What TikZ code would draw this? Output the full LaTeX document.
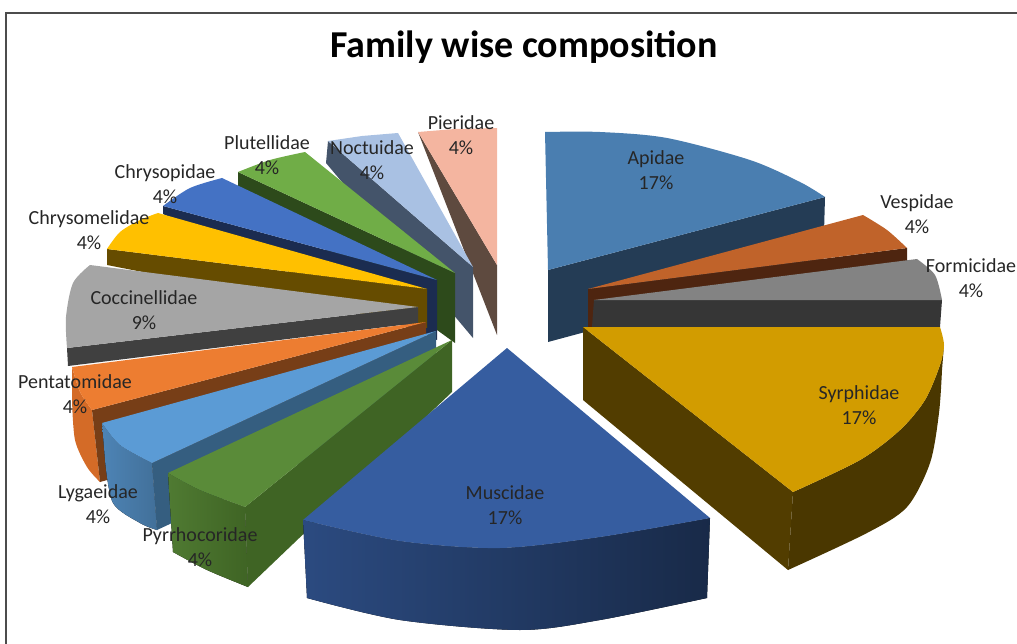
\documentclass[tikz,border=0pt]{standalone}
\usepackage{fontspec}
\setmainfont{Carlito}

\definecolor{apiTop}{HTML}{4A7EB0}
\definecolor{apiSide}{HTML}{243C55}
\definecolor{vesTop}{HTML}{C0632A}
\definecolor{vesSide}{HTML}{4E2510}
\definecolor{forTop}{HTML}{838383}
\definecolor{forSide}{HTML}{363636}
\definecolor{syrTop}{HTML}{D29C00}
\definecolor{syrSide}{HTML}{523D00}
\definecolor{musTop}{HTML}{365DA0}
\definecolor{pyrTop}{HTML}{5A8B39}
\definecolor{pyrSide}{HTML}{3F6424}
\definecolor{lygTop}{HTML}{5B9BD5}
\definecolor{lygSide}{HTML}{355E80}
\definecolor{penTop}{HTML}{ED7D31}
\definecolor{penSide}{HTML}{773E17}
\definecolor{penRim}{HTML}{D46B27}
\definecolor{cocTop}{HTML}{A5A5A5}
\definecolor{cocSide}{HTML}{404040}
\definecolor{chmTop}{HTML}{FFC000}
\definecolor{chmSide}{HTML}{664C00}
\definecolor{chpTop}{HTML}{4472C4}
\definecolor{chpSide}{HTML}{1B2C50}
\definecolor{pluTop}{HTML}{70AD47}
\definecolor{pluSide}{HTML}{2D4A1B}
\definecolor{nocTop}{HTML}{A9C1E3}
\definecolor{nocSide}{HTML}{44546A}
\definecolor{pieTop}{HTML}{F4B5A0}
\definecolor{pieSide}{HTML}{5E4A3F}

\tikzset{
    famlabel/.style={font=\fontsize{20}{25}\selectfont, align=center, text=black!85, inner sep=0pt},
}

\begin{document}
\begin{tikzpicture}[x=1pt,y=-1pt]
    \useasboundingbox (0,0) rectangle (1017,644);
    \draw[black!70, line width=1.2pt] (6,644) -- (6,13) -- (1017,13);
    \node (title) at (524,47) {\fontsize{38}{40}\selectfont\bfseries Family wise composition};

    % back slices
    \fill[pieSide] (418,132) -- (497,265) -- (497,335) -- cycle;
    \fill[pieTop] (418,132) -- (455,129) -- (497,128) -- (497,265) -- cycle;

    \fill[nocSide] (328,141) -- (473,267) -- (473,338) -- (326,163) -- cycle;
    \fill[nocTop] (328,141) -- (362,136) -- (398,133) -- (473,267) -- cycle;

    \fill[apiSide] (825,197) -- (548,270) -- (548,342) -- (823,268) -- cycle;
    \fill[apiTop] (548,270) -- (545,132) -- plot[smooth] coordinates {(545,132) (600,132) (667,138) (750,160) (800,182) (825,197)} -- cycle;

    \fill[pluSide] (238,172) -- (455,273) -- (455,343) -- (238,186) -- cycle;
    \fill[pluTop] (455,273) -- (238,172) -- plot[smooth] coordinates {(238,172) (270,160) (305,152)} -- cycle;

    \fill[chpSide] (163,206) -- (437,280) -- (437,340) -- (163,214) -- cycle;
    \fill[chpTop] (437,280) -- (163,206) -- plot[smooth] coordinates {(163,206) (190,188) (222,178)} -- cycle;

    \fill[vesSide] (907,248) -- (588,289) -- (588,330) -- (907,262) -- cycle;
    \fill[vesTop] (588,289) -- (863,215) -- plot[smooth] coordinates {(863,215) (887,230) (907,248)} -- cycle;

    \fill[chmSide] (107,249) -- (427,289) -- (427,328) -- (107,265) -- cycle;
    \fill[chmTop] (427,289) -- (107,249) -- plot[smooth] coordinates {(107,249) (120,232) (140,220) (158,213)} -- cycle;

    \fill[forSide] (594,300) -- (942,300) -- (940,327) -- (592,327) -- cycle;
    \fill[forTop] (594,300) -- (917,259) -- plot[smooth] coordinates {(917,259) (935,275) (942,300)} -- cycle;

    \fill[cocSide] (67,348) -- (418,307) -- (418,323) -- (68,366) -- cycle;
    \fill[cocTop] (418,307) -- (90,265) -- plot[smooth] coordinates {(90,265) (73,283) (66,317) (67,348)} -- cycle;

    \fill[penRim] plot[smooth] coordinates {(72,367) (80,392) (92,410)} -- (100,482) -- plot[smooth] coordinates {(100,482) (87,467) (75,440) (72,400)} -- cycle;
    \fill[penSide] (92,410) -- (426,322) -- (426,392) -- (100,482) -- cycle;
    \fill[penTop] (426,322) -- (72,367) -- plot[smooth] coordinates {(72,367) (80,392) (92,410)} -- cycle;

    % front slices
    \fill[syrSide] (583,327) -- (793,492) -- (788,570) -- (583,400) -- cycle;
    \fill[syrSide!90!black] plot[smooth] coordinates {(944,345) (940,365) (925,400) (900,430) (860,460) (793,492)} -- (788,570) -- plot[smooth] coordinates {(788,570) (867,533) (907,507) (930,463) (939,413) (942,370)} -- cycle;
    \fill[syrTop] (583,327) -- (940,327) -- plot[smooth] coordinates {(940,327) (944,345) (940,365) (925,400) (900,430) (860,460) (793,492)} -- cycle;

    \fill[left color=lygTop!85!black, right color=lygTop!72!black] plot[smooth] coordinates {(102,423) (120,445) (152,463)} -- (157,530) -- plot[smooth] coordinates {(157,530) (140,523) (113,503) (105,460)} -- cycle;
    \fill[lygSide] (152,463) -- (436,331) -- (436,400) -- (157,530) -- cycle;
    \fill[lygTop] (436,331) -- (102,423) -- plot[smooth] coordinates {(102,423) (120,445) (152,463)} -- cycle;

    \fill[left color=pyrTop!88!black, right color=pyrSide] plot[smooth] coordinates {(168,473) (200,490) (245,507)} -- (248,587) -- plot[smooth] coordinates {(248,587) (207,570) (173,552)} -- cycle;
    \fill[pyrSide] (245,507) -- (452,340) -- (452,392) -- (248,587) -- cycle;
    \fill[pyrTop] (452,340) -- (168,473) -- plot[smooth] coordinates {(168,473) (200,490) (245,507)} -- cycle;

    \fill[left color=musTop!80!black, right color=musTop!45!black] plot[smooth] coordinates {(303,520) (400,541) (500,548) (600,537) (710,518)} -- (707,598) -- plot[smooth] coordinates {(707,598) (600,620) (520,630) (400,620) (307,598)} -- cycle;
    \fill[musTop] (507,348) -- (303,520) -- plot[smooth] coordinates {(303,520) (400,541) (500,548) (600,537) (710,518)} -- cycle;

    % labels
    \node[famlabel] (apidae) at (656,170) {Apidae\\17\%};
    \node[famlabel] (vespidae) at (917,214) {Vespidae\\4\%};
    \node[famlabel] (formicidae) at (971,278) {Formicidae\\4\%};
    \node[famlabel] (syrphidae) at (859,405) {Syrphidae\\17\%};
    \node[famlabel] (muscidae) at (505,505) {Muscidae\\17\%};
    \node[famlabel] (pyrrhocoridae) at (200,547) {Pyrrhocoridae\\4\%};
    \node[famlabel] (lygaeidae) at (98,504) {Lygaeidae\\4\%};
    \node[famlabel] (pentatomidae) at (75,394) {Pentatomidae\\4\%};
    \node[famlabel] (coccinellidae) at (144,310) {Coccinellidae\\9\%};
    \node[famlabel] (chrysomelidae) at (89,230) {Chrysomelidae\\4\%};
    \node[famlabel] (chrysopidae) at (165,184) {Chrysopidae\\4\%};
    \node[famlabel] (plutellidae) at (267,155) {Plutellidae\\4\%};
    \node[famlabel] (noctuidae) at (372,160) {Noctuidae\\4\%};
    \node[famlabel] (pieridae) at (461,135) {Pieridae\\4\%};
\end{tikzpicture}
\end{document}
